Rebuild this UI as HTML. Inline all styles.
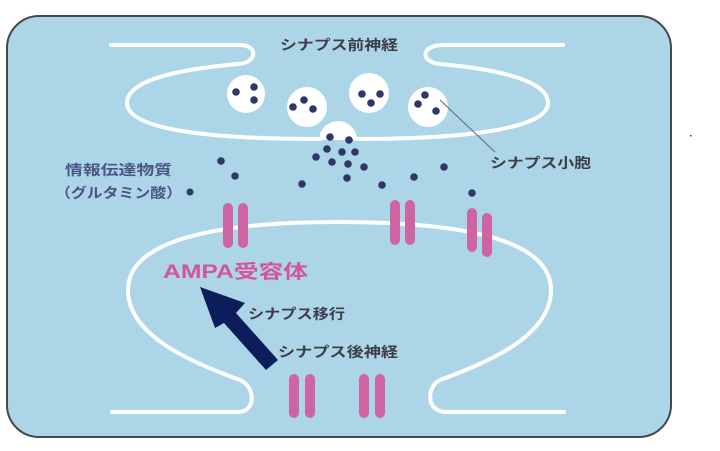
<!DOCTYPE html>
<html><head><meta charset="utf-8"><style>
html,body{margin:0;padding:0;background:#fff;}
svg{display:block;}
text{font-family:"Liberation Sans","Noto Sans CJK JP",sans-serif;}
</style></head><body>
<svg width="720" height="451" viewBox="0 0 720 451" xmlns="http://www.w3.org/2000/svg">
<rect x="0" y="0" width="720" height="451" fill="#fff"/>
<rect x="7" y="16" width="664" height="421" rx="32" ry="32" fill="#acd6e7" stroke="#44494e" stroke-width="2"/>
<g fill="none" stroke="#fff" stroke-width="4" stroke-linecap="round">
<path d="M111,45 H240 C258,45 258,63 238,64 C170,70 127,82 127,103 C127,128 200,139 320,139 M356,139 C470,139 548,128 548,103 C548,82 505,70 440,64 C420,62 420,45 444,45 H563"/>
<path d="M112,412 H238 C256,412 256,387 240,380 C190,362 128,335 128,290 C128,245 200,222 338,222 C480,222 551,245 551,290 C551,335 490,362 440,380 C426,387 426,412 446,412 H564"/>
</g>
<g fill="#fff">
<circle cx="246" cy="94" r="19"/>
<circle cx="307" cy="107" r="20"/>
<circle cx="369" cy="93" r="20"/>
<circle cx="428" cy="107" r="20"/>
<path d="M319,140 A19,19 0 0 1 357,140 Z"/>
</g>
<line x1="440" y1="100" x2="495" y2="152" stroke="#666" stroke-width="1"/>
<g fill="#2e3768">
<circle cx="236" cy="92" r="3.8"/><circle cx="254" cy="87" r="3.8"/><circle cx="254" cy="100" r="3.8"/>
<circle cx="293" cy="107" r="3.8"/><circle cx="304" cy="100" r="3.8"/><circle cx="313" cy="109" r="3.8"/>
<circle cx="362" cy="94" r="3.8"/><circle cx="380" cy="94" r="3.8"/><circle cx="371" cy="103" r="3.8"/>
<circle cx="418" cy="104" r="3.8"/><circle cx="425" cy="95" r="3.8"/><circle cx="436" cy="111" r="3.8"/>
<circle cx="330" cy="137" r="3.8"/><circle cx="349" cy="140" r="3.8"/>
<circle cx="327" cy="149" r="3.8"/><circle cx="342" cy="152" r="3.8"/><circle cx="355" cy="152" r="3.8"/>
<circle cx="316" cy="157" r="3.8"/><circle cx="332" cy="162" r="3.8"/><circle cx="348" cy="164" r="3.8"/>
<circle cx="364" cy="167" r="3.8"/><circle cx="347" cy="178" r="3.8"/><circle cx="221" cy="161" r="3.8"/>
<circle cx="235" cy="176" r="3.8"/><circle cx="302" cy="184" r="3.8"/><circle cx="382" cy="185" r="3.8"/>
<circle cx="414" cy="177" r="3.8"/><circle cx="444" cy="167" r="3.8"/><circle cx="472" cy="193" r="3.8"/>
<circle cx="190" cy="192" r="3.5"/>
</g>
<g fill="#cf64a2">
<rect x="223" y="203" width="10" height="45" rx="5"/><rect x="238" y="203" width="10" height="45" rx="5"/>
<rect x="390" y="200" width="10" height="45" rx="5"/><rect x="405" y="200" width="10" height="45" rx="5"/>
<rect x="467" y="208" width="10" height="44" rx="5"/><rect x="482" y="213" width="10" height="44" rx="5"/>
<rect x="289" y="374" width="10" height="44" rx="5"/><rect x="305" y="374" width="10" height="44" rx="5"/>
<rect x="359" y="374" width="10" height="44" rx="5"/><rect x="375" y="374" width="10" height="44" rx="5"/>
</g>
<polygon points="200,287 245,303 236,313 278,360 266,370 224,323 215,328" fill="#0d1d5c"/>
<g font-size="14" fill="#3d3d45" font-weight="bold" lengthAdjust="spacingAndGlyphs">
<text x="280" y="50" textLength="118" lengthAdjust="spacingAndGlyphs">シナプス前神経</text>
<text x="490" y="168" textLength="101" lengthAdjust="spacingAndGlyphs">シナプス小胞</text>
<text x="248" y="319" textLength="97" lengthAdjust="spacingAndGlyphs">シナプス移行</text>
<text x="278" y="357" textLength="120" lengthAdjust="spacingAndGlyphs">シナプス後神経</text>
</g>
<g font-size="14" fill="#4a5585" font-weight="bold">
<text x="65" y="175" textLength="107" lengthAdjust="spacingAndGlyphs">情報伝達物質</text>
<text x="55" y="198" textLength="127" lengthAdjust="spacingAndGlyphs">（グルタミン酸）</text>
</g>
<text x="163" y="278" font-size="19" font-weight="bold" fill="#d4569a" textLength="145" lengthAdjust="spacingAndGlyphs">AMPA受容体</text>
<rect x="690" y="135" width="1.5" height="1.5" fill="#333"/>
</svg>
</body></html>
